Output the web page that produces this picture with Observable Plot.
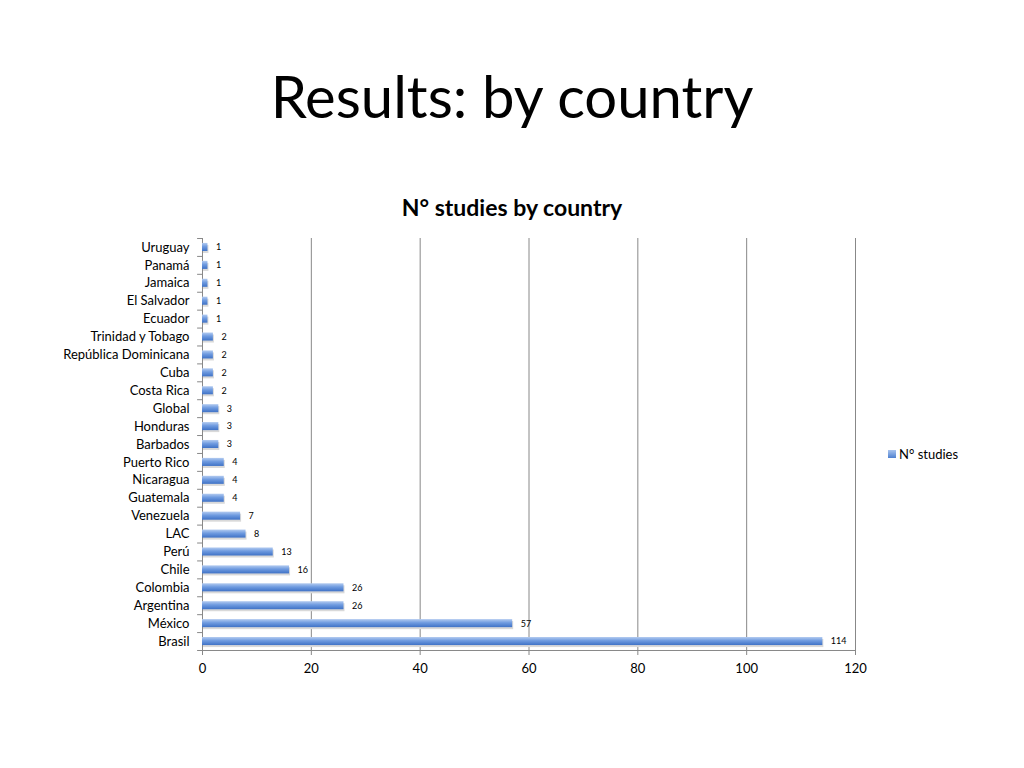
<!DOCTYPE html>
<html><head><meta charset="utf-8">
<script src="https://cdn.jsdelivr.net/npm/d3@7"></script>
<script src="https://cdn.jsdelivr.net/npm/@observablehq/plot@0.6"></script>
<style>
body{margin:0;background:#fff;font-family:Lato,"Open Sans",sans-serif;}
#wrap{position:relative;width:1024px;height:768px;overflow:hidden;}
#title{position:absolute;left:0;width:1024px;top:64px;text-align:center;font-size:58px;color:#000;line-height:1.1;}
#sub{position:absolute;left:0;width:1024px;top:193px;text-align:center;font-size:23px;font-weight:bold;color:#000;}
#chart{position:absolute;left:0;top:225px;}
#legend{position:absolute;left:888px;top:446px;font-size:13px;color:#000;display:flex;align-items:center;}
#legend span.sw{display:inline-block;width:8px;height:8px;background:linear-gradient(#a9c4ee,#4f81d0);margin-right:3px;}
</style></head>
<body><div id="wrap">
<div id="title">Results: by country</div>
<div id="sub">N° studies by country</div>
<div id="chart"></div>
<div id="legend"><span class="sw"></span>N° studies</div>
</div>
<script>
const countries = ["Uruguay","Panamá","Jamaica","El Salvador","Ecuador","Trinidad y Tobago","República Dominicana","Cuba","Costa Rica","Global","Honduras","Barbados","Puerto Rico","Nicaragua","Guatemala","Venezuela","LAC","Perú","Chile","Colombia","Argentina","México","Brasil"];
const studies = [1,1,1,1,1,2,2,2,2,3,3,3,4,4,4,7,8,13,16,26,26,57,114];
const xTicks = [0,20,40,60,80,100,120];

const data = countries.map((c,i)=>({country:c, n:studies[i]}));
const H = 470, mTop = 13, mBottom = 45;
const step = (H - mTop - mBottom)/countries.length;

const chart = Plot.plot({
  width: 1024, height: H,
  marginLeft: 202, marginRight: 169, marginTop: mTop, marginBottom: mBottom,
  style: {fontFamily: "Lato, 'Open Sans', sans-serif", fontSize: "13px", color: "#000", overflow: "visible"},
  x: {domain: [0,120], ticks: xTicks, tickSize: 5, tickPadding: 6, label: null},
  y: {domain: countries, paddingInner: 0.55, paddingOuter: 0.275, align: 0.5, round: false, tickSize: 0, tickPadding: 13, label: null},
  marks: [
    Plot.ruleX(xTicks.slice(1), {stroke: "#888", strokeWidth: 1, strokeOpacity: 1}),
    Plot.ruleX([0], {stroke: "#888"}),
    Plot.ruleY(countries, {y: d=>d, x1: -0.9, x2: 0, dy: -step/2, stroke: "#888"}),
    Plot.ruleY([countries[countries.length-1]], {y: d=>d, x1: -0.9, x2: 0, dy: step/2, stroke: "#888"}),
    Plot.barX(data, {y: "country", x: "n", fill: "#d9d9d9", dx: 1, dy: 2}),
    Plot.barX(data, {y: "country", x: "n", fill: "url(#barGrad)"}),
    Plot.text(data, {y: "country", x: "n", text: d=>String(d.n), dx: 8, textAnchor: "start", fontSize: 9, fill: "#000"}),
    Plot.axisX({ticks: xTicks, tickSize: 5, tickPadding: 8, stroke: "#888", fontSize: 13, label: null}),
    Plot.ruleY([countries[countries.length-1]], {y: d=>d, dy: step/2, stroke: "#888"}),
    Plot.axisY({tickSize: 0, tickPadding: 13, fontSize: 13, label: null})
  ]
});
const svg = d3.select(chart);
const defs = svg.insert("defs", ":first-child");
const g = defs.append("linearGradient").attr("id","barGrad").attr("x1",0).attr("y1",0).attr("x2",0).attr("y2",1);
g.append("stop").attr("offset","0%").attr("stop-color","#b3cbf0");
g.append("stop").attr("offset","45%").attr("stop-color","#6f9be0");
g.append("stop").attr("offset","100%").attr("stop-color","#3f72c6");
document.getElementById("chart").appendChild(chart);
</script>
</body></html>
